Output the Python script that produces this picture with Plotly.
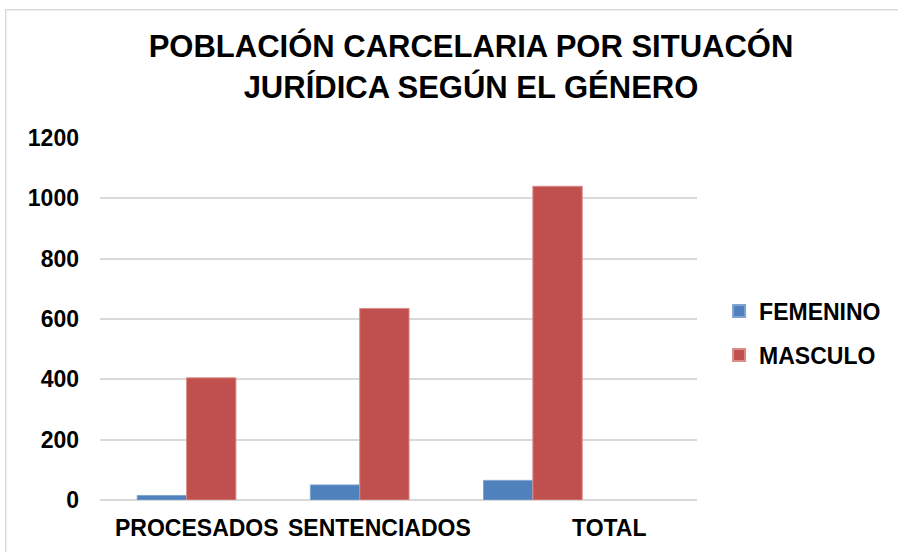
import plotly.graph_objects as go

categories = ["PROCESADOS", "SENTENCIADOS", "TOTAL"]
femenino = [15, 50, 65]
masculino = [405, 635, 1040]
y_ticks = [0, 200, 400, 600, 800, 1000, 1200]
label_shift = [10, 20, 77]

FONT = "Liberation Sans, Arial, sans-serif"

fig = go.Figure()
fig.add_trace(go.Bar(name="FEMENINO", x=categories, y=femenino, legendgroup="f",
                     marker=dict(color="#4F81BD", line=dict(color="#7FA3D0", width=1))))
fig.add_trace(go.Bar(name="MASCULO", x=categories, y=masculino, legendgroup="m",
                     marker=dict(color="#C0504D", line=dict(color="#D98C8A", width=1))))

annotations = []
for c, s in zip(categories, label_shift):
    annotations.append(dict(x=c, y=0, xref="x", yref="paper", yanchor="top", yshift=-13,
                            xshift=s, text=c, showarrow=False,
                            font=dict(family=FONT, size=23, color="black", weight="bold")))

fig.update_layout(
    width=898, height=552,
    margin=dict(l=100, r=198, t=138, b=52),
    paper_bgcolor="white", plot_bgcolor="white",
    title=dict(text="POBLACIÓN CARCELARIA POR SITUACÓN<br>JURÍDICA SEGÚN EL GÉNERO",
               x=0.5245, xanchor="center", y=0.896, yanchor="top",
               font=dict(family=FONT, size=31, color="black", weight="bold")),
    barmode="group", bargap=0.43, bargroupgap=0,
    xaxis=dict(type="category", range=[-0.5, 2.948], showticklabels=False,
               showgrid=False, showline=False, zeroline=False),
    yaxis=dict(range=[0, 1200], tickvals=y_ticks, showgrid=True, gridcolor="#d9d9d9",
               gridwidth=1.5, zeroline=True, zerolinecolor="#d9d9d9", zerolinewidth=2,
               ticks="", ticklabelstandoff=20,
               tickfont=dict(family=FONT, size=23, color="black", weight="bold")),
    legend=dict(x=1.037, y=0.461, xanchor="left", yanchor="middle",
                font=dict(family=FONT, size=23, color="black", weight="bold"),
                traceorder="grouped", tracegroupgap=11,
                itemsizing="constant", itemwidth=30),
    annotations=annotations,
    shapes=[dict(type="rect", xref="paper", yref="paper", x0=-0.158, x1=1.34,
                 y0=-0.16, y1=1.354, line=dict(color="#d9d9d9", width=1.5),
                 fillcolor="rgba(0,0,0,0)", layer="below")],
    showlegend=True,
)

fig.write_html("out.html", config={"displayModeBar": False},
               post_script="document.body.style.margin='0';document.body.style.padding='0';")
